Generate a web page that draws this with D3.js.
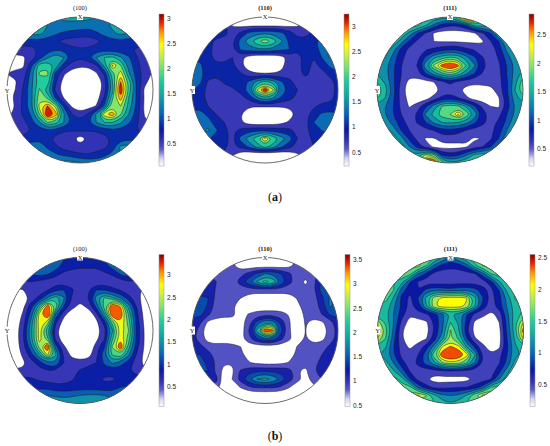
<!DOCTYPE html>
<html>
<head>
<meta charset="utf-8">
<script src="https://cdnjs.cloudflare.com/ajax/libs/d3/7.8.5/d3.min.js"></script>
<style>
  html, body { margin: 0; padding: 0; background: #fff; }
  svg { display: block; }
</style>
</head>
<body>
<svg id="chart" width="550" height="446"></svg>
<script>
// pole figure densities on a 19 x 19 grid (row by row, top to bottom)
const densityA100 = [
  1.0,1.0,1.0,1.1,1.2,1.2,1.3,1.4,1.4,1.4,1.4,1.3,1.3,1.2,1.2,1.1,1.0,1.0,1.0,
  1.2,1.2,1.2,1.3,1.3,1.3,1.25,1.2,1.2,1.2,1.15,1.2,1.25,1.35,1.4,1.3,1.2,1.2,1.2,
  1.2,1.2,1.3,1.4,1.4,1.2,1.05,.95,.9,.85,.8,.95,1.1,1.25,1.4,1.3,1.2,1.1,1.1,
  .9,.9,.9,.85,.9,.85,.75,.6,.55,.55,.55,.6,.8,.9,.9,.85,.9,.9,.9,
  .5,.5,.55,.6,.75,.85,.95,.95,.8,.72,.75,.85,.85,.8,.8,.75,.65,.55,.5,
  .3,.35,.35,.55,.85,1.25,1.55,1.3,.9,.72,.95,1.3,1.6,1.7,1.35,1.05,.72,.5,.5,
  .3,.3,.35,.95,1.8,1.85,1.5,.85,.55,.45,.45,.6,1.4,2.6,1.95,1.2,.8,.55,.5,
  .4,.5,.5,1.15,1.95,1.95,.85,.45,.2,.15,.2,.35,.75,1.7,2.4,1.35,.85,.55,.35,
  .3,.35,.65,1.2,1.75,1.8,.75,.25,.1,.1,.1,.15,.5,1.6,2.8,1.8,.95,.5,.2,
  .3,.4,.75,1.25,1.95,1.4,.6,.2,.1,.1,.1,.15,.55,1.45,3.2,1.85,.9,.3,.2,
  .3,.45,.75,1.2,2.1,1.85,.95,.4,.1,.1,.1,.2,.75,1.85,2.7,1.6,.95,.35,.2,
  .3,.4,.8,1.25,2.3,2.85,2.1,.95,.35,.2,.25,.42,1.05,2.1,2.2,1.5,.9,.3,.2,
  .3,.5,.75,1.05,1.9,3.4,2.7,1.35,.7,.5,.75,1.35,2.4,2.75,1.95,1.3,.85,.35,.3,
  .4,.45,.6,.9,1.25,1.9,1.75,1.3,.95,.8,.95,1.3,1.6,1.6,1.35,1.05,.75,.45,.4,
  .5,.5,.55,.7,.85,.95,.85,.72,.72,.72,.72,.72,.8,.9,.9,.8,.7,.6,.5,
  .9,.8,.8,.8,.95,.8,.6,.55,.5,.2,.45,.55,.6,.75,.85,.9,.9,.9,.9,
  1.2,1.2,1.2,1.2,1.15,.95,.75,.55,.5,.5,.5,.55,.62,.8,1.4,1.4,1.4,1.3,1.2,
  1.2,1.2,1.2,1.2,1.2,1.15,1.05,.95,.85,.75,.72,.8,.95,1.1,1.3,1.3,1.2,1.2,1.2,
  1.2,1.2,1.2,1.2,1.2,1.2,1.3,1.45,1.45,1.35,1.25,1.2,1.2,1.2,1.2,1.2,1.2,1.2,1.2
];
const densityA110 = [
  .9,.9,.9,.9,.9,.5,.4,.4,.4,.4,.4,.4,.4,.4,.5,.9,.9,.9,.9,
  1.0,1.0,1.0,1.0,.9,.5,.45,.45,.45,.45,.45,.45,.45,.5,.7,.9,1.0,1.0,1.0,
  1.0,1.0,1.0,1.0,.95,.75,.9,1.25,1.35,1.4,1.35,1.25,1.0,.75,.75,.9,1.0,1.2,1.2,
  1.0,1.0,.95,.78,.7,.8,1.3,1.6,1.95,2.3,1.95,1.5,1.1,.95,.95,1.05,1.35,1.5,1.5,
  1.0,1.0,.95,.7,.65,.8,1.2,1.3,1.4,1.4,1.35,1.25,1.15,.9,.9,.95,1.3,1.55,1.55,
  1.1,1.1,.95,.72,.7,.85,.65,.35,.2,.2,.22,.35,.7,.72,.95,.85,1.15,1.5,1.5,
  1.2,1.2,1.0,.95,.95,.9,.6,.4,.3,.3,.3,.45,.72,.75,1.0,.75,.95,1.2,1.3,
  1.3,1.25,1.0,.95,.95,.95,.9,.62,.57,.57,.57,.6,.72,.72,.95,.72,.72,.95,1.1,
  1.3,1.2,.8,.7,.9,.95,.95,1.2,1.55,1.9,1.6,1.2,.95,.72,.7,.65,.65,.72,.95,
  1.2,1.0,.75,.72,.72,.8,.95,1.35,2.35,3.4,2.4,1.4,1.05,.85,.7,.68,.68,.72,.95,
  1.15,1.0,.72,.7,.7,.72,.72,.95,1.35,1.7,1.45,1.1,.95,.78,.7,.68,.7,.75,.95,
  1.1,1.05,.85,.72,.72,.7,.62,.57,.57,.57,.57,.57,.6,.68,.7,.8,.95,.95,.95,
  1.2,1.3,1.05,.85,.78,.7,.55,.4,.35,.35,.35,.35,.4,.62,.75,1.0,1.2,1.25,1.2,
  1.3,1.35,1.35,.95,.85,.7,.58,.4,.35,.35,.38,.45,.6,.72,.75,1.15,1.3,1.3,1.2,
  1.3,1.4,1.5,1.2,.9,.78,.95,1.05,1.1,1.1,1.05,1.0,.95,.75,.8,.95,1.15,1.2,1.2,
  1.2,1.2,1.2,.95,.9,.8,1.25,1.6,1.95,2.7,2.0,1.6,1.3,.85,.75,.9,.95,1.1,1.1,
  1.0,1.0,1.0,.95,.9,.75,.95,1.2,1.55,1.9,1.6,1.2,.95,.75,.75,.85,.95,1.0,1.0,
  .9,.9,.9,.9,.8,.6,.3,.2,.15,.1,.15,.2,.3,.5,.7,.8,.9,.9,.9,
  .8,.8,.8,.8,.6,.3,.3,.3,.3,.3,.3,.3,.3,.3,.6,.8,.8,.8,.8
];
const densityA111 = [
  1.5,1.5,1.5,1.5,1.6,1.7,1.7,1.6,1.6,1.5,2.0,3.2,3.4,1.9,1.7,1.6,1.5,1.5,1.5,
  1.6,1.6,1.6,1.6,1.9,1.8,1.5,1.15,.85,.75,.75,1.0,1.6,1.55,1.6,1.6,1.6,1.6,1.6,
  1.7,1.7,1.7,1.7,1.35,.95,.68,.42,.3,.3,.3,.3,.4,.65,.95,1.5,1.7,1.7,1.7,
  1.7,1.7,1.7,1.3,.9,.65,.45,.45,.42,.42,.42,.4,.38,.42,.68,.95,1.45,1.7,1.7,
  1.6,1.6,1.3,.85,.62,.55,.68,.75,.85,.9,.9,.75,.68,.55,.55,.8,1.25,1.5,1.5,
  1.4,1.45,1.1,.75,.6,.65,1.0,1.4,1.6,1.75,1.65,1.3,1.0,.72,.58,.72,1.05,1.4,1.4,
  1.3,1.3,1.0,.7,.58,.72,1.4,2.0,2.6,3.0,2.55,1.7,1.25,.8,.58,.65,.95,1.25,1.3,
  1.45,1.3,1.0,.7,.56,.62,.95,1.3,1.6,1.85,1.6,1.25,.95,.68,.55,.62,.95,1.3,1.55,
  1.7,1.4,1.0,.65,.35,.3,.35,.45,.62,.8,.62,.55,.52,.55,.55,.6,.9,1.35,1.85,
  1.9,1.6,1.05,.55,.3,.25,.25,.3,.5,.55,.5,.35,.3,.3,.35,.58,.9,1.45,1.95,
  1.75,1.45,1.0,.6,.35,.25,.32,.55,.78,.85,.72,.5,.32,.3,.3,.42,.85,1.35,1.6,
  1.35,1.2,.95,.62,.42,.6,.9,1.3,1.7,1.85,1.75,1.4,1.0,.65,.45,.4,.8,1.2,1.3,
  1.2,1.2,.95,.7,.58,.75,1.25,1.55,1.85,1.95,2.5,1.9,1.4,.85,.58,.62,.95,1.25,1.3,
  1.3,1.35,1.1,.78,.62,.72,.95,1.25,1.45,1.5,1.45,1.3,1.0,.78,.6,.75,1.0,1.4,1.4,
  1.6,1.6,1.35,.95,.7,.58,.62,.7,.85,.85,.8,.68,.58,.55,.62,.85,1.2,1.5,1.5,
  1.6,1.6,1.6,1.3,.9,.62,.42,.42,.55,.58,.55,.5,.42,.45,.65,.95,1.35,1.5,1.5,
  1.6,1.6,1.6,1.6,1.2,.85,.6,.38,.35,.35,.35,.42,.6,.7,.95,1.3,1.5,1.5,1.5,
  1.6,1.6,1.6,1.6,1.6,1.5,2.0,1.8,.9,.8,.9,1.15,1.5,1.6,1.6,1.6,1.6,1.6,1.6,
  1.6,1.6,1.6,1.6,1.6,2.0,3.2,3.2,1.9,1.5,1.6,1.7,1.8,1.7,1.6,1.6,1.6,1.6,1.6
];
const densityB100 = [
  1.2,1.2,1.2,1.2,1.2,1.2,1.2,1.1,1.0,1.0,1.0,1.0,1.1,1.2,1.2,1.2,1.2,1.2,1.2,
  1.2,1.2,1.2,1.2,1.25,1.3,1.3,.9,.85,.8,.8,.8,.95,1.2,1.3,1.2,1.2,1.2,1.2,
  1.0,1.0,1.0,1.1,1.2,1.1,.85,.7,.65,.65,.65,.62,.7,.8,1.1,1.3,1.1,1.0,1.0,
  .7,.7,.7,.75,.65,.6,.58,.58,.58,.58,.58,.55,.55,.55,.6,.72,.7,.7,.7,
  .3,.35,.45,.55,.6,.72,1.0,1.05,.8,.6,.72,1.05,1.05,.85,.72,.55,.5,.4,.3,
  .2,.2,.2,.55,.85,1.4,1.85,1.4,.72,.58,.75,1.5,2.0,1.7,1.35,.9,.55,.3,.2,
  .2,.2,.38,.95,1.8,3.1,2.2,1.05,.6,.35,.55,1.15,2.1,3.4,2.8,1.5,.72,.25,.2,
  .2,.2,.5,1.2,2.7,3.6,1.3,.55,.2,.1,.2,.6,1.6,3.3,3.25,1.9,.85,.3,.2,
  .2,.25,.6,1.5,2.8,2.4,.8,.3,.1,.1,.1,.35,.85,2.1,2.8,2.1,.9,.35,.2,
  .2,.25,.72,1.6,2.65,1.7,.55,.2,.1,.1,.1,.3,.62,1.6,2.75,2.25,.95,.4,.2,
  .2,.25,.72,1.6,2.75,2.0,.6,.25,.1,.1,.1,.35,.7,1.9,2.75,2.1,.95,.4,.2,
  .2,.25,.65,1.3,2.4,3.4,1.2,.5,.25,.1,.15,.6,1.0,2.3,3.3,1.8,.85,.4,.2,
  .25,.3,.5,.95,1.6,2.6,1.7,.72,.35,.3,.3,.65,1.3,2.0,2.2,1.4,.72,.35,.25,
  .3,.3,.4,.62,.9,1.25,1.3,.75,.62,.55,.65,.75,1.1,1.4,1.2,.9,.6,.35,.3,
  .5,.5,.5,.55,.62,.72,.72,.62,.65,.78,.9,.9,.9,.85,.85,.78,.62,.5,.5,
  .85,.85,.85,.8,.68,.65,.62,.62,.72,.85,.85,.85,.7,.7,.85,.85,.9,.9,.9,
  1.0,1.0,1.0,1.0,1.0,.95,.85,.85,.85,.9,.9,.9,.85,.9,1.05,1.1,1.1,1.1,1.1,
  1.2,1.2,1.2,1.2,1.25,1.35,1.3,1.25,1.3,1.35,1.4,1.4,1.35,1.25,1.2,1.2,1.2,1.2,1.2,
  1.4,1.4,1.4,1.4,1.4,1.5,1.6,1.6,1.6,1.6,1.6,1.6,1.6,1.5,1.4,1.4,1.4,1.4,1.4
];
const densityB110 = [
  .8,.8,.8,.8,.8,.8,.5,.5,.5,.5,.5,.5,.5,.8,.8,.8,.8,.8,.8,
  .9,.9,.9,.9,.85,.72,.5,.5,.5,.5,.5,.5,.6,.8,.85,.9,.9,.9,.9,
  1.0,1.0,1.0,.9,.85,.82,.9,1.1,1.35,1.6,1.55,1.3,1.05,.85,.85,.95,1.1,1.1,1.1,
  1.05,1.05,1.05,1.0,.85,.85,1.15,1.5,1.95,2.35,2.1,1.55,1.1,.85,.62,.9,1.4,1.4,1.3,
  1.1,1.1,1.25,.95,.8,.8,.82,.85,.85,.85,.85,.85,.82,.8,.8,.95,1.45,1.5,1.3,
  1.3,1.4,1.3,.9,.78,.75,.7,.55,.5,.5,.5,.5,.55,.72,.78,.85,1.2,1.65,1.4,
  1.45,1.65,1.25,.85,.78,.72,.55,.5,.5,.5,.5,.5,.5,.65,.78,.82,1.15,1.65,1.5,
  1.4,1.4,1.05,.85,.78,.75,.6,.72,.82,.85,.85,.82,.68,.55,.75,.82,1.0,1.35,1.4,
  1.2,1.05,.62,.55,.55,.62,.55,.9,1.4,1.85,1.75,1.2,.72,.55,.72,.6,.65,.85,1.2,
  1.2,.85,.45,.5,.5,.5,.5,1.0,2.0,3.6,3.2,1.4,.72,.55,.7,.5,.5,.8,1.1,
  1.1,.85,.55,.52,.6,.6,.58,.95,1.3,1.6,1.55,1.1,.75,.55,.72,.55,.6,.85,1.1,
  1.2,1.1,.85,.8,.78,.75,.7,.5,.5,.5,.5,.5,.55,.72,.78,.8,.9,1.05,1.1,
  1.3,1.3,1.15,.85,.8,.78,.75,.6,.5,.5,.5,.5,.6,.75,.8,.82,1.0,1.2,1.2,
  1.4,1.4,1.25,.95,.72,.72,.75,.72,.65,.6,.6,.65,.72,.78,.78,.85,1.15,1.25,1.2,
  1.3,1.3,1.3,.9,.55,.65,1.05,1.2,1.25,1.25,1.25,1.2,1.15,.72,.62,.95,1.25,1.2,1.2,
  1.1,1.1,1.1,1.1,.45,.72,1.15,1.55,1.9,2.05,1.85,1.5,1.15,.85,.55,.9,1.0,1.0,1.0,
  .9,.9,.9,.9,.4,.5,.72,.95,1.05,1.05,1.05,.95,.72,.4,.4,.6,.8,.8,.8,
  .4,.4,.4,.4,.4,.4,.4,.4,.4,.4,.4,.4,.4,.4,.4,.4,.4,.4,.4,
  .4,.4,.4,.4,.4,.4,.4,.4,.4,.4,.4,.4,.4,.4,.4,.4,.4,.4,.4
];
const densityB111 = [
  1.5,1.5,1.5,1.5,1.5,1.6,1.6,1.5,1.3,1.0,1.3,1.5,1.6,1.6,1.5,1.5,1.5,1.5,1.5,
  1.6,1.6,1.6,1.7,1.8,1.85,1.5,1.0,.75,.7,.72,.95,1.45,1.75,1.8,1.7,1.6,1.6,1.6,
  1.6,1.6,1.7,1.7,1.6,1.05,.8,.55,.5,.5,.5,.52,.6,1.0,1.5,1.6,1.6,1.6,1.6,
  1.5,1.5,1.5,1.35,.85,.6,.5,.5,.5,.5,.5,.5,.5,.52,.75,1.25,1.5,1.5,1.5,
  1.5,1.5,1.5,.95,.7,.62,.9,1.0,.95,.9,1.0,1.0,.95,.7,.55,.85,1.35,1.5,1.5,
  1.5,1.6,1.25,.75,.55,.85,1.35,1.85,2.0,2.05,2.05,1.95,1.35,.85,.52,.75,1.15,1.55,1.5,
  1.4,1.45,1.1,.8,.55,.75,1.25,1.92,2.05,2.05,2.05,1.9,1.3,.75,.5,.75,1.1,1.4,1.5,
  1.35,1.35,1.05,.72,.42,.55,.58,.72,1.0,1.3,1.2,.85,.55,.45,.35,.45,1.0,1.4,1.55,
  1.85,1.45,1.05,.55,.3,.3,.35,.65,1.0,1.5,1.25,.75,.35,.3,.3,.4,.95,1.45,1.95,
  2.3,1.6,1.0,.42,.28,.28,.28,.65,1.05,1.75,1.3,.65,.3,.3,.3,.32,.9,1.45,2.35,
  1.95,1.5,.9,.42,.28,.3,.38,.72,1.2,1.75,1.45,.85,.42,.3,.3,.3,.85,1.35,2.0,
  1.45,1.3,.85,.5,.35,.5,.72,1.15,1.95,2.2,2.0,1.25,.8,.45,.3,.35,.8,1.25,1.4,
  1.3,1.2,.85,.55,.5,.62,1.0,1.7,2.4,2.6,2.45,2.05,1.3,.6,.42,.55,.85,1.25,1.3,
  1.3,1.35,1.05,.7,.52,.68,.95,1.2,1.7,1.85,1.8,1.5,1.05,.6,.5,.6,.9,1.35,1.4,
  1.5,1.5,1.3,.95,.6,.52,.5,.52,.6,.62,.6,.55,.5,.5,.52,.75,1.2,1.5,1.5,
  1.6,1.6,1.6,1.4,.85,.55,.42,.3,.3,.3,.3,.32,.48,.5,.62,1.05,1.4,1.5,1.5,
  1.7,1.7,1.7,1.6,1.6,1.0,.72,.55,.55,.58,.6,.62,.7,.95,1.5,1.6,1.6,1.6,1.6,
  1.7,1.7,1.7,1.7,1.8,2.0,1.75,1.35,1.1,1.05,1.1,1.3,1.7,2.0,2.0,1.8,1.7,1.7,1.7,
  1.5,1.5,1.5,1.5,1.5,1.5,1.5,1.5,1.4,1.3,1.4,1.5,1.5,1.5,1.5,1.5,1.5,1.5,1.5
];

// contour levels of each figure
const levelsA100 = [.4,.7,1,1.3,1.6,1.9,2.2,2.5,2.8];
const levelsA110 = [.55,.85,1.15,1.45,1.75,2.05,2.35,2.65,2.95];
const levelsA111 = [.45,.7,.95,1.2,1.45,1.7,1.95,2.2,2.45];
const levelsB100 = [.45,.75,1.05,1.35,1.65,1.95,2.25,2.55,2.85];
const levelsB110 = [.7,1,1.3,1.6,1.9,2.2,2.5,2.8,3.1];
const levelsB111 = [.4,.62,.84,1.06,1.28,1.5,1.72,1.94,2.16];

// colour bar ranges and tick labels
const rangeA100 = [.04, 3.08];
const rangeA110 = [.22, 3.25];
const rangeA111 = [.2, 2.86];
const rangeB100 = [.05, 3.45];
const rangeB110 = [.47, 3.6];
const rangeB111 = [.16, 2.54];
const ticks3 = [.5,1,1.5,2,2.5,3];
const ticks25 = [.5,1,1.5,2,2.5];
const ticks35 = [.5,1,1.5,2,2.5,3,3.5];
const titles = ["(100)", "(110)", "(111)"];

// jet with a white foot, as on the bars
const jetStops = [0,.05,.11,.17,.24,.36,.46,.56,.66,.74,.8,.88,.94,1];
const jetColors = ["#ffffff","#d4d4f2","#5a5ac6","#3030b4","#0a18a4","#0a6cb4","#10a4a4","#20cc9c",
                   "#84e46c","#d4f03c","#ffff00","#ff9400","#ee2400","#800000"];
const jet = d3.scaleLinear().domain(jetStops).range(jetColors);

const svg = d3.select("#chart");
const defs = svg.append("defs");
const gridSize = 19;
const radius = 73;
const serif = "'Liberation Serif', serif";

// ---- one pole figure ----
function drawFigure(id, cx, cy, barX, values, levels, range, ticks, title) {
  const g = svg.append("g");
  const x = d3.scaleLinear().domain([.5, gridSize - .5]).range([cx - radius, cx + radius]);
  const y = d3.scaleLinear().domain([.5, gridSize - .5]).range([cy - radius, cy + radius]);
  const shade = d3.scaleLinear().domain(range).range([0, 1]);

  defs.append("clipPath").attr("id", "clip" + id)
    .append("circle").attr("cx", cx).attr("cy", cy).attr("r", radius);

  const ringLine = d3.line().x(d => x(d[0])).y(d => y(d[1])).curve(d3.curveBasisClosed);
  const contours = d3.contours().size([gridSize, gridSize]).thresholds(levels)(values);

  const bands = g.append("g").attr("clip-path", "url(#clip" + id + ")");
  bands.selectAll("path")
    .data(contours)
    .enter()
    .append("path")
    .attr("d", c => c.coordinates.map(poly =>
      poly.map(ring => ringLine(ring.slice(0, -1))).join("")).join(""))
    .attr("fill-rule", "evenodd")
    .attr("fill", (c, i) => {
      const top = i < levels.length - 1 ? levels[i + 1] : range[1];
      return jet(shade((c.value + top) / 2));
    })
    .attr("stroke", "#1a1a2a")
    .attr("stroke-width", .5);

  g.append("circle").attr("cx", cx).attr("cy", cy).attr("r", radius)
    .attr("fill", "none").attr("stroke", "#5a5a5a").attr("stroke-width", .9);

  // title and axis marks
  g.append("text").attr("x", cx).attr("y", cy - radius - 7).attr("text-anchor", "middle")
    .attr("font-family", serif).attr("font-size", 6.5)
    .attr("font-weight", title === "(100)" ? "normal" : "bold")
    .attr("fill", "#222").text(title);
  g.append("rect").attr("x", cx - 3).attr("y", cy - radius - 4).attr("width", 6).attr("height", 7).attr("fill", "#fff");
  g.append("text").attr("x", cx).attr("y", cy - radius + 2).attr("text-anchor", "middle")
    .attr("font-family", serif).attr("font-size", 6.5).attr("fill", "#222").text("X");
  g.append("rect").attr("x", cx - radius - 3).attr("y", cy - 4).attr("width", 6).attr("height", 8).attr("fill", "#fff");
  g.append("text").attr("x", cx - radius).attr("y", cy + 2.5).attr("text-anchor", "middle")
    .attr("font-family", serif).attr("font-size", 6.5).attr("fill", "#222").text("Y");

  // colour bar
  const barTop = cy - 76, barBottom = cy + 76, barW = 5;
  const barY = d3.scaleLinear().domain(range).range([barBottom, barTop]);
  const grad = defs.append("linearGradient").attr("id", "bar" + id)
    .attr("x1", 0).attr("y1", 1).attr("x2", 0).attr("y2", 0);
  jetStops.forEach((s, i) => grad.append("stop").attr("offset", s).attr("stop-color", jetColors[i]));
  g.append("rect").attr("x", barX).attr("y", barTop).attr("width", barW).attr("height", barBottom - barTop)
    .attr("fill", "url(#bar" + id + ")").attr("stroke", "#999").attr("stroke-width", .5);

  const axis = g.append("g").attr("transform", "translate(" + (barX + barW + 3) + ",0)")
    .call(d3.axisRight(barY).tickValues(ticks).tickSize(0).tickPadding(0).tickFormat(d3.format("~g")));
  axis.select(".domain").remove();
  axis.selectAll("text").attr("font-family", "'Liberation Sans', sans-serif")
    .attr("font-size", 6.5).attr("fill", "#222");
}

drawFigure("a1", 80, 90, 159, densityA100, levelsA100, rangeA100, ticks3, titles[0]);
drawFigure("a2", 265, 90, 344, densityA110, levelsA110, rangeA110, ticks3, titles[1]);
drawFigure("a3", 450, 90, 529, densityA111, levelsA111, rangeA111, ticks25, titles[2]);
drawFigure("b1", 80, 330.5, 159, densityB100, levelsB100, rangeB100, ticks3, titles[0]);
drawFigure("b2", 265, 330.5, 345, densityB110, levelsB110, rangeB110, ticks35, titles[1]);
drawFigure("b3", 450.5, 330.5, 530, densityB111, levelsB111, rangeB111, ticks25, titles[2]);

// sub-figure captions
function caption(y, letter) {
  const t = svg.append("text").attr("x", 275).attr("y", y).attr("text-anchor", "middle")
    .attr("font-family", serif).attr("font-size", 12).attr("fill", "#111");
  t.append("tspan").text("(");
  t.append("tspan").attr("font-weight", "bold").text(letter);
  t.append("tspan").text(")");
}
caption(201, "a");
caption(440, "b");
</script>
</body>
</html>
